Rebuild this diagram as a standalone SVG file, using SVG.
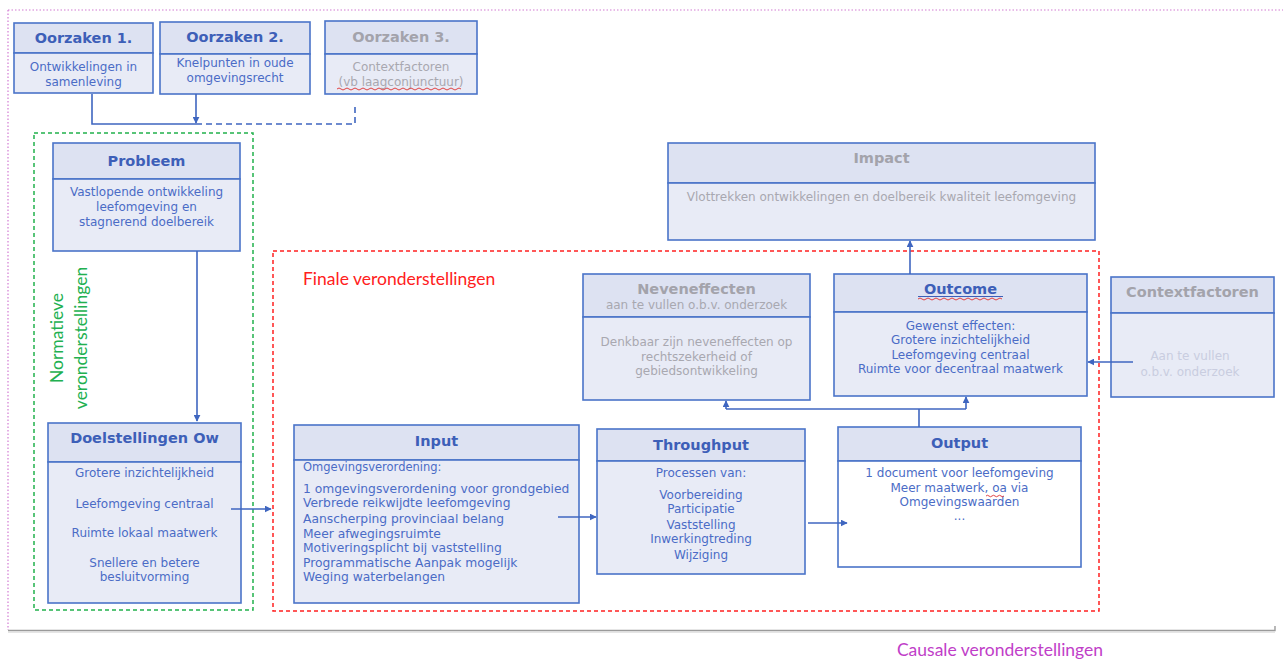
<svg xmlns="http://www.w3.org/2000/svg" width="1283" height="660" viewBox="0 0 1283 660">
<style>
.hd{fill:#dde2f2;stroke:#4a74c9;stroke-width:1.6}
.bd{fill:#e8ebf6;stroke:#4a74c9;stroke-width:1.6}
.wb{fill:#ffffff;stroke:#4a74c9;stroke-width:1.6}
.t{font-family:"DejaVu Sans",Verdana,sans-serif;font-weight:bold;font-size:14.5px;fill:#3d5fb8;text-anchor:middle}
.tg{fill:#a3a3ab}
.b{font-family:"DejaVu Sans",Verdana,sans-serif;font-size:12px;fill:#4b6cc6;text-anchor:middle}
.bl{text-anchor:start;font-size:12.3px}
.g{fill:#a8a8b0}
.f{fill:#c9cde0}
.c{fill:none;stroke:#3f66c0;stroke-width:1.6}
.w{fill:none;stroke:#e03030;stroke-width:0.9}
.lab{font-family:Lato,"Open Sans",sans-serif;font-size:17.5px}
</style>
<defs>
<marker id="ah" viewBox="0 0 10 10" refX="9" refY="5" markerWidth="7" markerHeight="7" markerUnits="userSpaceOnUse" orient="auto">
<path d="M0,0 L10,5 L0,10 z" fill="#3f66c0"/>
</marker>
</defs>
<rect width="1283" height="660" fill="#ffffff"/>
<g id="frame">
<path d="M8,10 H1283" stroke="#d27bd2" stroke-width="1.2" stroke-dasharray="1.5,2" fill="none"/>
<path d="M8,10 V630" stroke="#d27bd2" stroke-width="1.2" stroke-dasharray="1.5,2" fill="none"/>
<path d="M8,630.5 H1275 V626" stroke="#9a9a9a" stroke-width="1.4" fill="none"/>
<path d="M8,632 H1275" stroke="#dcdcdc" stroke-width="1.5" fill="none"/>
<text x="1000" y="656" class="lab" fill="#c03ec8" text-anchor="middle">Causale veronderstellingen</text>
</g>
<g id="normatief">
<rect x="34" y="133" width="219" height="477" fill="none" stroke="#22b14c" stroke-width="1.5" stroke-dasharray="4,3"/>
<text class="lab" fill="#22b050" text-anchor="middle" transform="translate(63,338) rotate(-90)">Normatieve</text>
<text class="lab" fill="#22b050" text-anchor="middle" transform="translate(87,338) rotate(-90)">veronderstellingen</text>
</g>
<g id="finaal">
<rect x="273" y="251" width="826" height="360" fill="none" stroke="#ff2020" stroke-width="1.5" stroke-dasharray="4,3"/>
<text x="303" y="285" class="lab" fill="#ff2020">Finale veronderstellingen</text>
</g>
<g id="oorzaken1">
<rect class="hd" x="14" y="23" width="139" height="30"/>
<rect class="bd" x="14" y="53" width="139" height="40"/>
<text class="t" x="83.5" y="43">Oorzaken 1.</text>
<text class="b" x="83.5" y="71">Ontwikkelingen in</text>
<text class="b" x="83.5" y="86">samenleving</text>
</g>
<g id="oorzaken2">
<rect class="hd" x="160" y="22" width="150" height="32"/>
<rect class="bd" x="160" y="54" width="150" height="40"/>
<text class="t" x="235" y="42">Oorzaken 2.</text>
<text class="b" x="235" y="67">Knelpunten in oude</text>
<text class="b" x="235" y="82">omgevingsrecht</text>
</g>
<g id="oorzaken3">
<rect class="hd" x="325" y="21" width="152" height="33"/>
<rect class="bd" x="325" y="54" width="152" height="40"/>
<text class="t tg" x="401" y="42">Oorzaken 3.</text>
<text class="b g" x="401" y="71">Contextfactoren</text>
<text class="b g" x="401" y="86">(vb laagconjunctuur)</text>
<path class="w" d="M337,89 q2,-2 4,0 t4,0 t4,0 t4,0 t4,0 t4,0 t4,0 t4,0 t4,0 t4,0 t4,0 t4,0 t4,0 t4,0 t4,0 t4,0 t4,0 t4,0 t4,0 t4,0 t4,0 t4,0 t4,0 t4,0 t4,0 t4,0 t4,0 t4,0 t4,0 t4,0 t4,0"/>
</g>
<g id="probleem">
<rect class="hd" x="53" y="143" width="187" height="36"/>
<rect class="bd" x="53" y="179" width="187" height="72"/>
<text class="t" x="146.5" y="166">Probleem</text>
<text class="b" x="146.5" y="196">Vastlopende ontwikkeling</text>
<text class="b" x="146.5" y="211">leefomgeving en</text>
<text class="b" x="146.5" y="226">stagnerend doelbereik</text>
</g>
<g id="doelstellingen">
<rect class="hd" x="48" y="423" width="193" height="39"/>
<rect class="bd" x="48" y="462" width="193" height="141"/>
<text class="t" x="144.5" y="443">Doelstellingen Ow</text>
<text class="b" x="144.5" y="477">Grotere inzichtelijkheid</text>
<text class="b" x="144.5" y="508">Leefomgeving centraal</text>
<text class="b" x="144.5" y="537">Ruimte lokaal maatwerk</text>
<text class="b" x="144.5" y="567">Snellere en betere</text>
<text class="b" x="144.5" y="581">besluitvorming</text>
</g>
<g id="input">
<rect class="hd" x="294" y="425" width="285" height="35"/>
<rect class="bd" x="294" y="460" width="285" height="143"/>
<text class="t" x="436.5" y="446">Input</text>
<g class="b bl">
<text x="303" y="471" style="font-size:11.5px">Omgevingsverordening:</text>
<text x="303" y="493">1 omgevingsverordening voor grondgebied</text>
<text x="303" y="507">Verbrede reikwijdte leefomgeving</text>
<text x="303" y="523">Aanscherping provinciaal belang</text>
<text x="303" y="538">Meer afwegingsruimte</text>
<text x="303" y="552">Motiveringsplicht bij vaststelling</text>
<text x="303" y="567">Programmatische Aanpak mogelijk</text>
<text x="303" y="581">Weging waterbelangen</text>
</g>
</g>
<g id="throughput">
<rect class="hd" x="597" y="429" width="208" height="32"/>
<rect class="bd" x="597" y="461" width="208" height="113"/>
<text class="t" x="701" y="450">Throughput</text>
<text class="b" x="701" y="477" font-size="11.5">Processen van:</text>
<text class="b" x="701" y="499">Voorbereiding</text>
<text class="b" x="701" y="513">Participatie</text>
<text class="b" x="701" y="529">Vaststelling</text>
<text class="b" x="701" y="543">Inwerkingtreding</text>
<text class="b" x="701" y="559">Wijziging</text>
</g>
<g id="output">
<rect class="hd" x="838" y="427" width="243" height="34"/>
<rect class="wb" x="838" y="461" width="243" height="106"/>
<text class="t" x="959.5" y="448">Output</text>
<text class="b" x="959.5" y="477">1 document voor leefomgeving</text>
<text class="b" x="959.5" y="492">Meer maatwerk, oa via</text>
<text class="b" x="959.5" y="506">Omgevingswaarden</text>
<text class="b" x="959.5" y="520">...</text>
<path class="w" d="M986,496 q1.5,-1.5 3,0 t3,0 t3,0 t3,0 t3,0 t3,0"/>
</g>
<g id="neveneffecten">
<rect class="hd" x="583" y="274" width="227" height="43"/>
<rect class="bd" x="583" y="317" width="227" height="83"/>
<text class="t tg" x="696.5" y="294">Neveneffecten</text>
<text class="b g" x="696.5" y="309" font-size="11.5">aan te vullen o.b.v. onderzoek</text>
<text class="b g" x="696.5" y="346">Denkbaar zijn neveneffecten op</text>
<text class="b g" x="696.5" y="361">rechtszekerheid of</text>
<text class="b g" x="696.5" y="375">gebiedsontwikkeling</text>
</g>
<g id="outcome">
<rect class="hd" x="834" y="274" width="253" height="38"/>
<rect class="bd" x="834" y="312" width="253" height="84"/>
<text class="t" x="960.5" y="294">Outcome</text>
<path d="M918,296.5 H1003" stroke="#3d5fb8" stroke-width="1" fill="none"/>
<path class="w" d="M918,299 q2,-2 4,0 t4,0 t4,0 t4,0 t4,0 t4,0 t4,0 t4,0 t4,0 t4,0 t4,0 t4,0 t4,0 t4,0 t4,0 t4,0 t4,0 t4,0 t4,0 t4,0 t4,0"/>
<text class="b" x="960.5" y="330">Gewenst effecten:</text>
<text class="b" x="960.5" y="344">Grotere inzichtelijkheid</text>
<text class="b" x="960.5" y="359">Leefomgeving centraal</text>
<text class="b" x="960.5" y="373">Ruimte voor decentraal maatwerk</text>
</g>
<g id="impact">
<rect class="hd" x="668" y="143" width="427" height="40"/>
<rect class="bd" x="668" y="183" width="427" height="57"/>
<text class="t tg" x="881.5" y="163">Impact</text>
<text class="b g" x="881.5" y="201" font-size="11.7">Vlottrekken ontwikkelingen en doelbereik kwaliteit leefomgeving</text>
</g>
<g id="contextfactoren">
<rect class="hd" x="1111" y="277" width="163" height="36"/>
<rect class="bd" x="1111" y="313" width="163" height="84"/>
<text class="t tg" x="1192.5" y="297">Contextfactoren</text>
<text class="b f" x="1190" y="360" font-size="11">Aan te vullen</text>
<text class="b f" x="1190" y="376" font-size="11">o.b.v. onderzoek</text>
</g>
<g id="connectors">
<path class="c" d="M92,94 V124 H196"/>
<path class="c" d="M196,94 V123" marker-end="url(#ah)"/>
<path class="c" d="M196,124 H355 V106" stroke-dasharray="6,4"/>
<path class="c" d="M197,251 V421" marker-end="url(#ah)"/>
<path class="c" d="M231,509 H271" marker-end="url(#ah)"/>
<path class="c" d="M558,517 H596" marker-end="url(#ah)"/>
<path class="c" d="M808,523 H847" marker-end="url(#ah)"/>
<path class="c" d="M919,427 V409"/>
<path class="c" d="M726,409 H966"/>
<path class="c" d="M726,409 V401" marker-end="url(#ah)"/>
<path class="c" d="M966,409 V397" marker-end="url(#ah)"/>
<path class="c" d="M910,274 V241" marker-end="url(#ah)"/>
<path class="c" d="M1133,362 H1088" marker-end="url(#ah)"/>
</g>
</svg>
